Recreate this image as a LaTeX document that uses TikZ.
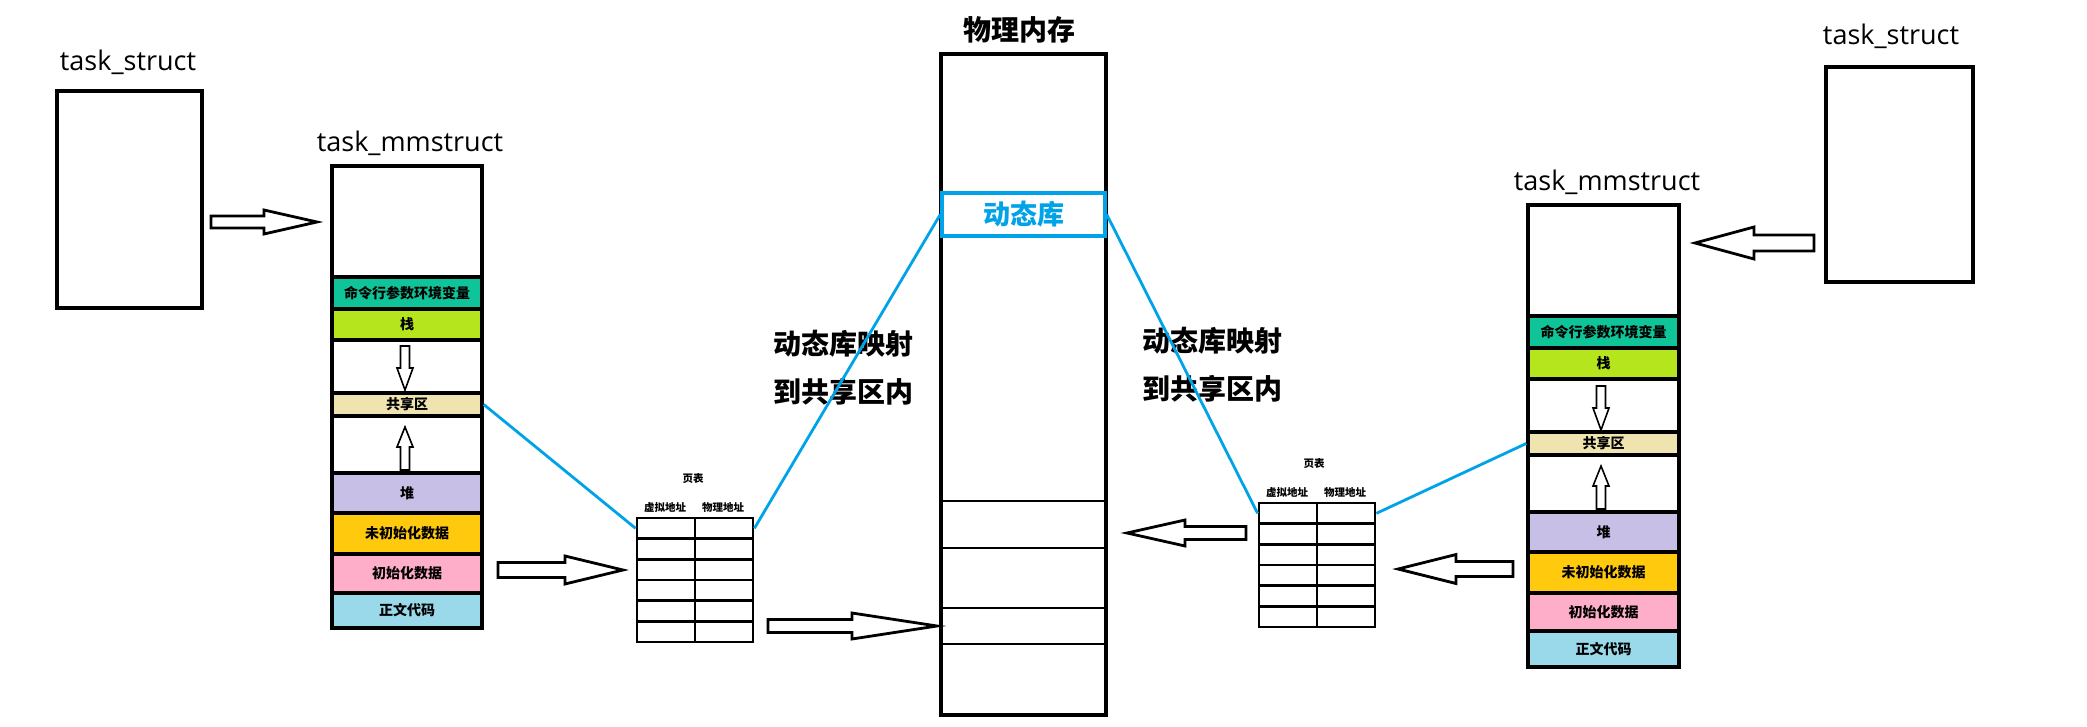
\documentclass[tikz,border=0pt]{standalone}
\usepackage{fontspec}
\setmainfont{Noto Sans CJK SC}
\newfontfamily\latinfont{Open Sans}
\definecolor{cmdc}{RGB}{16,196,154}
\definecolor{stackc}{RGB}{181,230,29}
\definecolor{shrc}{RGB}{239,228,176}
\definecolor{heapc}{RGB}{200,191,231}
\definecolor{bssc}{RGB}{255,201,14}
\definecolor{datac}{RGB}{255,174,201}
\definecolor{textc}{RGB}{153,217,234}
\definecolor{libblue}{RGB}{0,162,232}
\tikzset{
  box/.style={draw=black, line width=3.5pt, inner sep=0pt},
  seg/.style={draw=black, line width=3.5pt, inner sep=0pt, font=\bfseries\fontsize{14}{14}\selectfont},
  slot/.style={draw=black, line width=2.8pt, inner sep=0pt},
  cell/.style={draw=black, line width=2.8pt, inner sep=0pt, minimum width=58pt, minimum height=20.67pt},
  map/.style={draw=libblue, line width=2.8pt},
  hollow/.style={draw=black, fill=white, line width=2.8pt, line join=miter},
  thinhollow/.style={draw=black, fill=white, line width=1.6pt, line join=miter},
  title/.style={font=\latinfont\fontsize{27}{27}\selectfont, inner sep=0pt},
  bigcn/.style={font=\bfseries\fontsize{28}{48}\selectfont, inner sep=0pt, align=left},
  small/.style={font=\bfseries\fontsize{10.5}{10.5}\selectfont, inner sep=0pt},
}
\newcommand\rectnode[7]{\node[#6, minimum width={#4-#2}, minimum height={#5-#3}] (#1) at ({(#2+#4)/2},{(#3+#5)/2}) {#7};}
% horizontal hollow arrow: tail, head base, tip, y, shaft half, head half
\newcommand\harr[7][hollow]{\draw[#1] ({#2},{#5-#6}) -- ({#3},{#5-#6}) -- ({#3},{#5-#7}) -- ({#4},{#5}) -- ({#3},{#5+#7}) -- ({#3},{#5+#6}) -- ({#2},{#5+#6}) -- cycle;}
% vertical hollow arrow: x, tail, head base, tip, shaft half, head half
\newcommand\varr[7][thinhollow]{\draw[#1] ({#2-#6},{#3}) -- ({#2-#6},{#4}) -- ({#2-#7},{#4}) -- ({#2},{#5}) -- ({#2+#7},{#4}) -- ({#2+#6},{#4}) -- ({#2+#6},{#3}) -- cycle;}
\begin{document}
\begin{tikzpicture}[x=1pt,y=-1pt]
\useasboundingbox[fill=white] (0,0) rectangle (2087,727);

% ---------- left task_struct ----------
\node[title] (lts) at (128,62) {task\_struct};
\rectnode{ts1}{57}{91}{202}{308}{box}{}

% ---------- left task_mmstruct ----------
\node[title] (lmm) at (410,143) {task\_mmstruct};
\rectnode{m1top}{332}{166}{482}{277}{seg}{}
\rectnode{m1cmd}{332}{277}{482}{309}{seg, fill=cmdc}{命令行参数环境变量}
\rectnode{m1stk}{332}{309}{482}{340}{seg, fill=stackc}{栈}
\rectnode{m1g1}{332}{340}{482}{393}{seg}{}
\rectnode{m1shr}{332}{393}{482}{416}{seg, fill=shrc}{共享区}
\rectnode{m1g2}{332}{416}{482}{473}{seg}{}
\rectnode{m1heap}{332}{473}{482}{513}{seg, fill=heapc}{堆}
\rectnode{m1bss}{332}{513}{482}{554}{seg, fill=bssc}{未初始化数据}
\rectnode{m1data}{332}{554}{482}{593}{seg, fill=datac}{初始化数据}
\rectnode{m1text}{332}{593}{482}{628}{seg, fill=textc}{正文代码}
\varr{405}{346}{368}{390}{4.5}{8}
\varr{405}{470}{447}{427}{4.5}{8}

\harr{211}{264}{317}{222}{6}{12}

% ---------- left page table ----------
\node[small] (pt1) at (693,479) {页表};
\node[small] (pt1a) at (665,508) {虚拟地址};
\node[small] (pt1b) at (723,508) {物理地址};
\foreach \r in {0,...,5}{
  \node[cell] (t1a\r) at (666,{518+20.67*(\r+0.5)}) {};
  \node[cell] (t1b\r) at (724,{518+20.67*(\r+0.5)}) {};
}
\harr{498}{565}{623}{570}{7.5}{14}
\harr{768}{852}{937}{626}{6.5}{13}

% ---------- physical memory ----------
\node[font=\bfseries\fontsize{28}{28}\selectfont, inner sep=0pt] (pmt) at (1019,30) {物理内存};
\rectnode{phys}{941}{54}{1106}{715}{box}{}
\rectnode{slot1}{941}{501}{1106}{548}{slot}{}
\rectnode{slot2}{941}{548}{1106}{608}{slot}{}
\rectnode{slot3}{941}{608}{1106}{644}{slot}{}
\rectnode{lib}{942}{193}{1105}{236}{draw=libblue, line width=3.5pt, inner sep=0pt, text=libblue, font=\bfseries\fontsize{27}{27}\selectfont}{动态库}

\node[bigcn] (lab1) at (843,368) {动态库映射\\到共享区内};
\node[bigcn] (lab2) at (1212,365) {动态库映射\\到共享区内};

% ---------- right page table ----------
\node[small] (pt2) at (1314,464) {页表};
\node[small] (pt2a) at (1287,493) {虚拟地址};
\node[small] (pt2b) at (1345,493) {物理地址};
\foreach \r in {0,...,5}{
  \node[cell] (t2a\r) at (1288,{503+20.67*(\r+0.5)}) {};
  \node[cell] (t2b\r) at (1346,{503+20.67*(\r+0.5)}) {};
}
\harr{1246}{1185}{1127}{533}{6.5}{13}
\harr{1513}{1456}{1398}{569}{7.5}{14.5}

% ---------- right task_mmstruct ----------
\node[title] (rmm) at (1607,182) {task\_mmstruct};
\rectnode{m2top}{1528}{205}{1679}{316}{seg}{}
\rectnode{m2cmd}{1528}{316}{1679}{348}{seg, fill=cmdc}{命令行参数环境变量}
\rectnode{m2stk}{1528}{348}{1679}{379}{seg, fill=stackc}{栈}
\rectnode{m2g1}{1528}{379}{1679}{432}{seg}{}
\rectnode{m2shr}{1528}{432}{1679}{455}{seg, fill=shrc}{共享区}
\rectnode{m2g2}{1528}{455}{1679}{512}{seg}{}
\rectnode{m2heap}{1528}{512}{1679}{552}{seg, fill=heapc}{堆}
\rectnode{m2bss}{1528}{552}{1679}{593}{seg, fill=bssc}{未初始化数据}
\rectnode{m2data}{1528}{593}{1679}{631}{seg, fill=datac}{初始化数据}
\rectnode{m2text}{1528}{631}{1679}{667}{seg, fill=textc}{正文代码}
\varr{1601}{386}{408}{430}{4.5}{8}
\varr{1601}{509}{486}{466}{4.5}{8}

% ---------- right task_struct ----------
\node[title] (rts) at (1891,36) {task\_struct};
\rectnode{ts2}{1826}{67}{1973}{282}{box}{}
\harr{1814}{1754}{1695}{243}{8}{16}

% ---------- mapping lines ----------
\draw[map] (m1shr.east) -- (t1a0.west);
\draw[map] (t1b0.east) -- (lib.west);
\draw[map] (lib.east) -- (t2a0.west);
\draw[map] (t2b0.east) -- (m2shr.west);
\end{tikzpicture}
\end{document}
